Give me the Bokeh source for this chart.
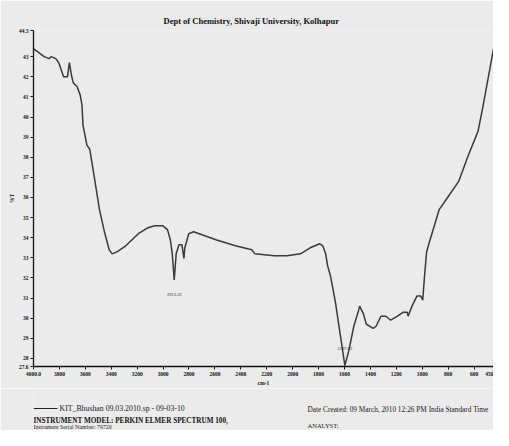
from bokeh.plotting import figure
from bokeh.models import Range1d, FixedTicker, CustomJSTickFormatter, Title
from bokeh.layouts import column
from bokeh.core.properties import value
from bokeh.embed import file_html
from bokeh.resources import INLINE

# ---- data ----
wavenumber = [4000, 3918, 3880, 3865, 3828, 3805, 3768, 3738, 3723, 3708, 3693, 3663, 3640, 3626,
              3618, 3588, 3566, 3528, 3491, 3453, 3416, 3393, 3356, 3288, 3191, 3116, 3064, 3004,
              2966, 2944, 2929, 2914, 2899, 2877, 2854, 2839, 2832, 2802, 2764, 2592, 2442, 2315,
              2292, 2142, 2045, 1940, 1865, 1790, 1768, 1745, 1730, 1708, 1670, 1633, 1597, 1566,
              1528, 1491, 1483, 1453, 1431, 1378, 1356, 1319, 1281, 1244, 1191, 1146, 1116, 1109,
              1079, 1041, 1011, 996, 981, 966, 944, 869, 794, 719, 644, 569, 532, 472, 450]
transmittance = [43.4, 43.0, 42.9, 43.0, 42.9, 42.7, 42.0, 42.0, 42.7, 42.1, 41.7, 41.5, 41.1, 40.6,
                 39.6, 38.6, 38.4, 36.9, 35.4, 34.3, 33.4, 33.2, 33.3, 33.6, 34.2, 34.5, 34.6, 34.6,
                 34.4, 33.9, 33.2, 31.9, 33.2, 33.65, 33.65, 32.97, 33.5, 34.2, 34.3, 33.9, 33.6, 33.4,
                 33.2, 33.1, 33.1, 33.2, 33.5, 33.7, 33.6, 33.2, 32.6, 32.1, 30.8, 29.2, 27.65, 28.4,
                 29.6, 30.4, 30.6, 30.2, 29.7, 29.5, 29.6, 30.1, 30.1, 29.9, 30.1, 30.3, 30.3, 30.1,
                 30.6, 31.1, 31.1, 30.9, 32.2, 33.3, 33.8, 35.4, 36.1, 36.8, 38.1, 39.3, 40.5, 42.6, 43.4]

peak_wn = [2913.22, 1597.02]
peak_label_y = [31.2, 28.5]

x_ticks = [4000, 3800, 3600, 3400, 3200, 3000, 2800, 2600, 2400, 2200, 2000, 1800,
           1600, 1400, 1200, 1000, 800, 600, 450]
y_ticks = [27.6, 28, 29, 30, 31, 32, 33, 34, 35, 36, 37, 38, 39, 40, 41, 42, 43, 44.3]

title_text = "Dept of Chemistry, Shivaji University, Kolhapur"
legend_text = "KIT_Bhushan 09.03.2010.sp - 09-03-10"
instrument_text = "INSTRUMENT MODEL: PERKIN ELMER SPECTRUM 100,"
serial_text = "Instrument Serial Number: 79720"
date_text = "Date Created: 09 March, 2010 12:26 PM India Standard Time"
analyst_text = "ANALYST:"

BG = "#ebebeb"
FONT = "Liberation Serif"
W = 493
LEFT = 33

p = figure(width=W, height=388, output_backend="svg", toolbar_location=None,
           x_range=Range1d(4000, 450), y_range=Range1d(27.6, 44.3),
           min_border_left=LEFT, min_border_right=0, min_border_top=30, min_border_bottom=19)
p.title = Title(text=title_text, align="left", offset=130, text_font=FONT,
                text_font_size="8.5px", text_font_style="bold", text_color="#111111", standoff=9)
p.background_fill_color = BG
p.border_fill_color = BG
p.outline_line_color = None
p.xgrid.visible = False
p.ygrid.visible = False

p.line(wavenumber, transmittance, line_color="#3a3a3a", line_width=1.5)

p.text(x=peak_wn, y=peak_label_y, text=[f"{w:.2f}" for w in peak_wn],
       text_font=value(FONT), text_font_size="4.5px", text_align="center",
       text_baseline="middle", text_color="#222222")

for ax in (p.xaxis[0], p.yaxis[0]):
    ax.axis_line_color = "#111111"
    ax.axis_line_width = 1.3
    ax.major_tick_line_color = "#111111"
    ax.major_tick_in = 0
    ax.major_tick_out = 3
    ax.minor_tick_line_color = None
    ax.major_label_text_font = FONT
    ax.major_label_text_font_size = "5.5px"
    ax.major_label_text_font_style = "bold"
    ax.major_label_text_color = "#111111"
    ax.axis_label_text_font = FONT
    ax.axis_label_text_font_size = "5.5px"
    ax.axis_label_text_font_style = "bold"
    ax.axis_label_text_color = "#111111"
    ax.major_label_standoff = 2
    ax.axis_label_standoff = 1

p.xaxis.ticker = FixedTicker(ticks=x_ticks)
p.xaxis.formatter = CustomJSTickFormatter(code="return tick == 4000 ? '4000.0' : tick.toFixed(0);")
p.xaxis.axis_label = "cm-1"
p.yaxis.ticker = FixedTicker(ticks=y_ticks)
p.yaxis.formatter = CustomJSTickFormatter(code="return (Math.abs(tick - Math.round(tick)) < 1e-6) ? tick.toFixed(0) : tick.toFixed(1);")
p.yaxis.axis_label = "%T"

# ---- footer (its frame is aligned with the chart frame by the column layout) ----
FH = 42
f = figure(width=W, height=FH, output_backend="svg", toolbar_location=None,
           x_range=Range1d(LEFT, W), y_range=Range1d(0, FH),
           x_axis_location=None, y_axis_location=None,
           min_border_left=LEFT, min_border_right=0, min_border_top=0, min_border_bottom=0)
f.xgrid.visible = False
f.ygrid.visible = False
f.outline_line_color = None
f.background_fill_color = BG
f.border_fill_color = BG

f.segment(x0=[33], y0=[22], x1=[57], y1=[22], line_color="#222222", line_width=1)
f.text(x=[59], y=[22], text=[legend_text], text_font=value(FONT), text_font_size="7.8px",
       text_baseline="middle", text_color="#222222")
f.text(x=[33], y=[10], text=[instrument_text], text_font=value(FONT), text_font_size="7.2px",
       text_font_style="bold", text_baseline="middle", text_color="#111111")
f.text(x=[33], y=[3.5], text=[serial_text], text_font=value(FONT), text_font_size="5.8px",
       text_baseline="middle", text_color="#222222")
f.text(x=[307], y=[21], text=[date_text], text_font=value(FONT), text_font_size="7.3px",
       text_baseline="middle", text_color="#222222")
f.text(x=[307], y=[5], text=[analyst_text], text_font=value(FONT), text_font_size="6.5px",
       text_baseline="middle", text_color="#222222")

layout = column(p, f, spacing=0)
open("out.html", "w").write(file_html(layout, INLINE))
